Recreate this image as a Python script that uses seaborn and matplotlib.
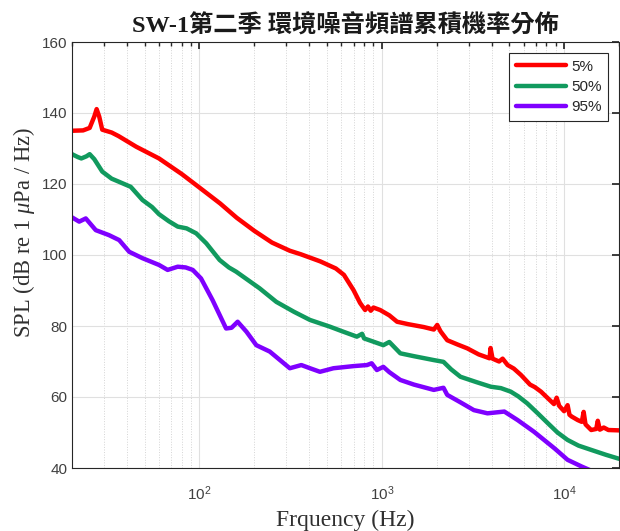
import numpy as np
import pandas as pd
import matplotlib
matplotlib.use("Agg")
import matplotlib.pyplot as plt
import seaborn as sns
from matplotlib.ticker import LogLocator, NullFormatter, MultipleLocator

# ---- data ----
freq_5 = [20, 23, 25, 26.5, 27.3, 28.2, 29.3, 33, 36, 45, 60, 80, 100, 130, 160, 200, 250, 313,
          360, 460, 560, 620, 700, 760, 810, 840, 870, 900, 980, 1100, 1213, 1400, 1700, 1930,
          2014, 2100, 2285, 2600, 2945, 3400, 3900, 3950, 4050, 4400, 4600, 4900, 5300, 5800,
          6500, 6900, 7470, 8200, 8800, 9100, 9400, 10000, 10450, 10700, 11000, 11880, 12500,
          12800, 13100, 14080, 15000, 15300, 15700, 16500, 17500, 20000]
spl_5 = [135.0, 135.1, 135.8, 139.0, 141.1, 139.0, 135.3, 134.5, 133.5, 130.5, 127.2, 122.8,
         119.0, 114.5, 110.5, 106.8, 103.5, 101.2, 100.2, 98.2, 96.2, 94.4, 90.1, 86.5, 84.5,
         85.5, 84.3, 85.2, 84.5, 83.0, 81.2, 80.5, 79.7, 79.0, 80.3, 78.5, 76.0, 74.8, 73.7,
         72.0, 70.9, 73.8, 70.8, 70.0, 70.8, 69.0, 68.0, 66.2, 63.5, 62.8, 61.5, 59.5, 58.0,
         59.8, 57.5, 56.0, 57.7, 55.0, 54.5, 53.5, 53.0, 55.8, 52.3, 50.7, 51.0, 53.3, 50.8,
         51.4, 50.7, 50.6]

freq_50 = [20, 21.5, 22.5, 24, 25, 26.5, 29.3, 33, 36.3, 42, 48.7, 55, 60, 68, 76, 85, 96, 109,
           129, 145, 159, 214, 264, 330, 404, 520, 600, 730, 780, 800, 1020, 1100, 1264, 1500,
           1928, 2180, 2400, 2700, 3300, 3960, 4500, 5100, 5600, 6280, 7200, 8150, 9200, 10450,
           12000, 14080, 17000, 20000]
spl_50 = [128.4, 127.6, 127.2, 127.8, 128.4, 127.0, 123.5, 121.5, 120.6, 119.2, 115.5, 113.5,
          111.5, 109.5, 108.0, 107.5, 106.1, 103.3, 98.6, 96.5, 95.3, 90.6, 86.8, 84.0, 81.7,
          79.8, 78.6, 77.0, 77.8, 76.5, 74.6, 75.5, 72.3, 71.5, 70.4, 69.9, 67.8, 65.7, 64.2,
          62.9, 62.5, 61.5, 60.2, 58.2, 55.3, 52.6, 50.0, 47.9, 46.3, 45.1, 43.7, 42.6]

freq_95 = [20, 21.9, 23.8, 27, 31.9, 36.3, 41.2, 48.7, 60, 66.9, 76, 84, 91.9, 102, 118, 140,
           150, 162, 181, 205, 243, 313, 362, 404, 458, 543, 700, 830, 880, 940, 1020, 1100,
           1264, 1500, 1928, 2180, 2285, 2700, 3200, 3800, 4700, 5560, 6840, 8870, 10450,
           12500, 14000, 20000]
spl_95 = [110.6, 109.4, 110.3, 107.0, 105.6, 104.2, 100.9, 99.1, 97.2, 95.8, 96.7, 96.5, 95.8,
          93.4, 87.3, 79.3, 79.5, 81.2, 78.4, 74.6, 72.8, 68.1, 69.0, 68.1, 67.1, 68.1, 68.7,
          69.0, 69.5, 67.6, 68.5, 67.0, 64.8, 63.5, 62.0, 62.6, 60.6, 58.5, 56.3, 55.4, 55.9,
          53.5, 50.2, 45.5, 42.3, 40.4, 39.3, 36.0]

labels = ["5%", "50%", "95%"]
colors = {"5%": "#ff0000", "50%": "#119a5e", "95%": "#7f00ff"}

df = pd.concat([
    pd.DataFrame({"freq": freq_5, "spl": spl_5, "series": labels[0]}),
    pd.DataFrame({"freq": freq_50, "spl": spl_50, "series": labels[1]}),
    pd.DataFrame({"freq": freq_95, "spl": spl_95, "series": labels[2]}),
], ignore_index=True)

sns.set_theme(style="white")
plt.rcParams["font.family"] = ["Liberation Sans", "DejaVu Sans"]
plt.rcParams["mathtext.fontset"] = "custom"
plt.rcParams["mathtext.rm"] = "Liberation Serif"
plt.rcParams["mathtext.it"] = "Liberation Serif:italic"

fig = plt.figure(figsize=(6.2, 5.31), dpi=100)
ax = fig.add_axes([72 / 620, 1 - 468 / 531, (619 - 72) / 620, (468 - 42) / 531])

sns.lineplot(data=df, x="freq", y="spl", hue="series", palette=colors, hue_order=labels,
             estimator=None, sort=False, linewidth=3.2, ax=ax)

ax.set_xscale("log")
ax.set_xlim(20, 20000)
ax.set_ylim(40, 160)
ax.yaxis.set_major_locator(MultipleLocator(20))
ax.xaxis.set_major_locator(LogLocator(base=10, numticks=10))
ax.xaxis.set_minor_locator(LogLocator(base=10, subs=np.arange(2, 10), numticks=20))
ax.xaxis.set_minor_formatter(NullFormatter())

ax.grid(True, which="major", axis="both", color="#e0e0e0", linewidth=0.8, linestyle="-")
ax.grid(True, which="minor", axis="x", color="#d4d4d4", linewidth=0.7, linestyle=":")
ax.set_axisbelow(True)

for s in ax.spines.values():
    s.set_color("#262626")
    s.set_linewidth(0.8)
ax.tick_params(which="both", direction="in", top=True, right=True, colors="#262626",
               labelsize=11, labelcolor="#404040")
ax.tick_params(which="major", length=5)
ax.tick_params(which="minor", length=3)
ax.tick_params(axis="x", pad=12)

serif = ["Liberation Serif", "DejaVu Serif"]
ax.set_xlabel("Frquency (Hz)", fontsize=17, family=serif, color="#303030")
ax.xaxis.set_label_coords(0.5, -0.097)
ax.set_ylabel(r"SPL (dB re 1 $\mu$Pa / Hz)", fontsize=16.3, family=serif, color="#303030")
ax.yaxis.set_label_coords(-0.064, 0.552)
ax.set_title("SW-1第二季 環境噪音頻譜累積機率分佈", fontsize=17.5, fontweight="bold",
             family=["Liberation Serif", "Noto Sans CJK TC"], color="#1a1a1a", pad=7)

leg = ax.legend(loc="upper right", fontsize=11, handlelength=3.3, frameon=True, fancybox=False,
                framealpha=1, edgecolor="#262626", borderaxespad=0.7, labelspacing=0.42,
                handletextpad=0.3, borderpad=0.45)
leg.get_frame().set_linewidth(0.8)
for line in leg.get_lines():
    line.set_linewidth(3.2)

fig.savefig("out.png", dpi=100)
